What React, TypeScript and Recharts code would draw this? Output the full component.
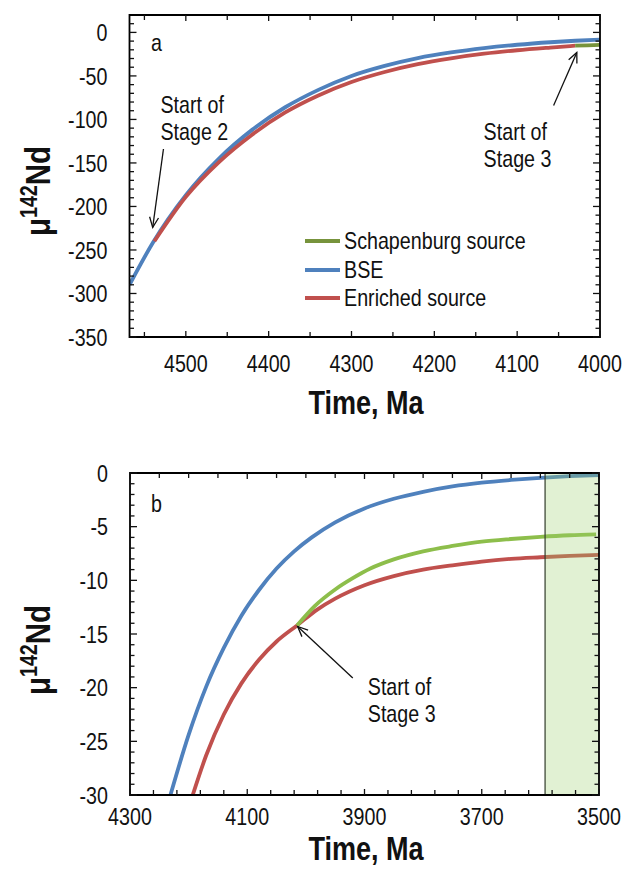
import { LineChart, Line, XAxis, YAxis, ReferenceArea, ReferenceLine, Legend } from 'recharts'

// ---- panel a: 4568 - 4000 Ma ----
const bseA = [
  { t: 4568, v: -290 }, { t: 4540, v: -242 }, { t: 4500, v: -187 }, { t: 4460, v: -145 },
  { t: 4420, v: -112 }, { t: 4380, v: -86 }, { t: 4340, v: -66 }, { t: 4300, v: -50 },
  { t: 4260, v: -38.5 }, { t: 4220, v: -29.5 }, { t: 4180, v: -23 }, { t: 4140, v: -18 },
  { t: 4100, v: -14.2 }, { t: 4060, v: -11.3 }, { t: 4030, v: -9.6 }, { t: 4000, v: -8.2 },
]
const enrichedA = [
  { t: 4538, v: -240 }, { t: 4500, v: -189 }, { t: 4460, v: -149 }, { t: 4420, v: -117.5 },
  { t: 4380, v: -92 }, { t: 4340, v: -72.5 }, { t: 4300, v: -57 }, { t: 4260, v: -45.5 },
  { t: 4220, v: -36.5 }, { t: 4180, v: -29.8 }, { t: 4140, v: -24.5 }, { t: 4100, v: -20.5 },
  { t: 4060, v: -17.4 }, { t: 4030, v: -15.3 },
]
const schapA = [{ t: 4030, v: -15.3 }, { t: 4015, v: -14.8 }, { t: 4000, v: -14.3 }]

// ---- panel b: 4300 - 3500 Ma ----
const bseB = [
  { t: 4231, v: -30 }, { t: 4200, v: -24.4 }, { t: 4170, v: -19.9 }, { t: 4140, v: -16.3 },
  { t: 4110, v: -13.3 }, { t: 4080, v: -10.9 }, { t: 4050, v: -8.9 }, { t: 4020, v: -7.3 },
  { t: 3990, v: -6 }, { t: 3950, v: -4.6 }, { t: 3900, v: -3.3 }, { t: 3850, v: -2.4 },
  { t: 3800, v: -1.75 }, { t: 3750, v: -1.25 }, { t: 3700, v: -0.9 }, { t: 3650, v: -0.65 },
  { t: 3600, v: -0.45 }, { t: 3550, v: -0.3 }, { t: 3500, v: -0.2 },
]
const enrichedB = [
  { t: 4193, v: -30 }, { t: 4170, v: -26.3 }, { t: 4140, v: -22.5 }, { t: 4110, v: -19.6 },
  { t: 4080, v: -17.4 }, { t: 4050, v: -15.7 }, { t: 4015, v: -14.2 }, { t: 3980, v: -12.7 },
  { t: 3950, v: -11.7 }, { t: 3900, v: -10.45 }, { t: 3850, v: -9.6 }, { t: 3800, v: -9 },
  { t: 3750, v: -8.6 }, { t: 3700, v: -8.25 }, { t: 3650, v: -8 }, { t: 3600, v: -7.85 },
  { t: 3550, v: -7.72 }, { t: 3500, v: -7.62 },
]
const schapB = [
  { t: 4015, v: -14.2 }, { t: 3985, v: -12.4 }, { t: 3950, v: -10.85 }, { t: 3920, v: -9.8 },
  { t: 3890, v: -8.9 }, { t: 3850, v: -8.05 }, { t: 3800, v: -7.3 }, { t: 3750, v: -6.8 },
  { t: 3700, v: -6.4 }, { t: 3650, v: -6.15 }, { t: 3600, v: -5.95 }, { t: 3550, v: -5.8 },
  { t: 3505, v: -5.72 },
]
const shadedB = [3592, 3500]

// ticks
const range = (a: number, b: number, s: number) =>
  Array.from({ length: Math.round((b - a) / s) + 1 }, (_, i) => Math.round((a + i * s) * 1000) / 1000)

const xTicksA = range(4000, 4550, 50)
const xLabelsA = [4500, 4400, 4300, 4200, 4100, 4000]
const yTicksA = range(-350, 10, 10)
const yLabelsA = [0, -50, -100, -150, -200, -250, -300, -350]

const xBottomB = range(3500, 4300, 40)
const xTopB = range(3500, 4300, 50)
const xLabelsB = [4300, 4100, 3900, 3700, 3500]
const yTicksB = range(-30, 0, 1)
const yLabelsB = [0, -5, -10, -15, -20, -25, -30]

const legendItems = [
  { name: 'Schapenburg source', color: '#77933C' },
  { name: 'BSE', color: '#4F81BD' },
  { name: 'Enriched source', color: '#C0504D' },
]

const FONT = "'Liberation Sans', Arial, sans-serif"
const NARROW = 0.82 // squeeze to mimic Arial Narrow
const INK = '#111'
const BLUE = '#4F81BD'
const RED = '#C0504D'
const GREEN_A = '#77933C'
const GREEN_B = '#8DBE4B'

function NText({ x, y, size, anchor = 'start', bold = false, rotate = 0, dy, children }: any) {
  return (
    <text transform={`translate(${x} ${y}) rotate(${rotate}) scale(${NARROW} 1)`} dy={dy}
      textAnchor={anchor} fontFamily={FONT} fontSize={size} fontWeight={bold ? 'bold' : 'normal'} fill={INK}>
      {children}
    </text>
  )
}

function xTick(plotTop: number, bottom: number[], top: number[], labels: number[], labelDy: number) {
  return (p: any) => {
    const v = Math.round(p.payload.value)
    const { x, y } = p
    const major = labels.includes(v)
    const len = major ? 6 : 5
    return (
      <g>
        {bottom.includes(v) && <line x1={x} x2={x} y1={y} y2={y - len} stroke={INK} strokeWidth={1.3} />}
        {top.includes(v) && <line x1={x} x2={x} y1={plotTop} y2={plotTop + len} stroke={INK} strokeWidth={1.3} />}
        {major && <NText x={x} y={y + labelDy} size={24} anchor="middle">{v}</NText>}
      </g>
    )
  }
}

function yTick(plotRight: number, labels: number[]) {
  return (p: any) => {
    const v = Math.round(p.payload.value * 1000) / 1000
    const { x, y } = p
    const major = labels.includes(v)
    const len = major ? 7 : 4.5
    return (
      <g>
        <line x1={x} x2={x + len} y1={y} y2={y} stroke={INK} strokeWidth={1.3} />
        <line x1={plotRight - len} x2={plotRight} y1={y} y2={y} stroke={INK} strokeWidth={1.3} />
        {major && <NText x={x - 22} y={y} dy="0.36em" size={24} anchor="end">{v}</NText>}
      </g>
    )
  }
}

function arrowNote(lines: string[], dx: number, dy: number[]) {
  return (p: any) => {
    const { x1, y1, x2, y2 } = p
    const ang = Math.atan2(y2 - y1, x2 - x1)
    const L = 11
    const s = 0.42
    const a1 = `${x2 - L * Math.cos(ang - s)},${y2 - L * Math.sin(ang - s)}`
    const a2 = `${x2 - L * Math.cos(ang + s)},${y2 - L * Math.sin(ang + s)}`
    return (
      <g>
        <line x1={x1} y1={y1} x2={x2} y2={y2} stroke={INK} strokeWidth={1.3} />
        <polyline points={`${a1} ${x2},${y2} ${a2}`} fill="none" stroke={INK} strokeWidth={1.3} />
        {lines.map((s2, i) => (
          <NText key={i} x={x1 + dx} y={y1 + dy[i]} size={24}>{s2}</NText>
        ))}
      </g>
    )
  }
}

const yTitle = (cx: number, cy: number) => () => (
  <NText x={cx} y={cy} rotate={-90} size={36} bold anchor="middle">
    <tspan>μ</tspan>
    <tspan fontSize={24} dy={-13}>142</tspan>
    <tspan dy={13}>Nd</tspan>
  </NText>
)

const xTitle = (cx: number, y: number) => () => (
  <NText x={cx} y={y} size={33} bold anchor="middle">Time, Ma</NText>
)

const letter = (s: string, x: number, y: number) => () => (
  <NText x={x} y={y} size={24}>{s}</NText>
)

const legendContent = () => (
  <div>
    {legendItems.map(it => (
      <div key={it.name} style={{ display: 'flex', alignItems: 'center', height: 28.5 }}>
        <div style={{ width: 35, height: 4, background: it.color, marginRight: 4, flex: 'none' }} />
        <span style={{
          display: 'inline-block', fontFamily: FONT, fontSize: 24, color: INK, lineHeight: '28px',
          whiteSpace: 'nowrap', transform: `scaleX(${NARROW})`, transformOrigin: 'left center',
        }}>{it.name}</span>
      </div>
    ))}
  </div>
)

export default function App() {
  return (
    <div style={{ position: 'absolute', left: 0, top: 0, width: 624, height: 876, background: '#fff' }}>
      {/* panel a */}
      <div style={{ position: 'absolute', left: 0, top: 0 }}>
        <LineChart width={624} height={440} margin={{ top: 15, right: 24, bottom: 0, left: 0 }}>
          <XAxis dataKey="t" type="number" domain={[4000, 4568]} reversed allowDataOverflow
            ticks={xTicksA} interval={0} tickSize={0} tickMargin={0} axisLine={false} height={103}
            tick={xTick(15, xTicksA, xTicksA, xLabelsA, 35)}
            label={{ content: xTitle(366, 414) }} />
          <YAxis type="number" domain={[-350, 20]} allowDataOverflow width={129.5}
            ticks={yTicksA} interval={0} tickSize={0} tickMargin={0} axisLine={false}
            tick={yTick(600, yLabelsA)} label={{ content: yTitle(50, 191) }} />
          <Line data={bseA} dataKey="v" name="BSE" type="monotone" stroke={BLUE} strokeWidth={3.8} dot={false} isAnimationActive={false} />
          <Line data={enrichedA} dataKey="v" name="Enriched source" type="monotone" stroke={RED} strokeWidth={3.8} dot={false} isAnimationActive={false} />
          <Line data={schapA} dataKey="v" name="Schapenburg source" type="monotone" stroke={GREEN_A} strokeWidth={3.8} dot={false} isAnimationActive={false} />
          <ReferenceArea x1={4568} x2={4000} y1={-350} y2={20} fill="none" stroke="#000" strokeWidth={1.8}
            ifOverflow="visible" zIndex={900} label={{ content: letter('a', 151, 51) }} />
          <ReferenceLine segment={[{ x: 4527, y: -134 }, { x: 4540, y: -224 }]} ifOverflow="visible" zIndex={950}
            shape={arrowNote(['Start of', 'Stage 2'], -3, [-36, -9])} />
          <ReferenceLine segment={[{ x: 4056, y: -84 }, { x: 4028, y: -23 }]} ifOverflow="visible" zIndex={950}
            shape={arrowNote(['Start of', 'Stage 3'], -70, [34, 61])} />
          <Legend layout="vertical" align="center" verticalAlign="middle" content={legendContent}
            wrapperStyle={{ left: 305, top: 227, width: 260 }} />
        </LineChart>
      </div>

      {/* panel b */}
      <div style={{ position: 'absolute', left: 0, top: 440 }}>
        <LineChart width={624} height={436} margin={{ top: 33, right: 25, bottom: 0, left: 0 }}>
          <XAxis dataKey="t" type="number" domain={[3500, 4300]} reversed allowDataOverflow
            ticks={[...new Set([...xBottomB, ...xTopB])].sort((a, b) => a - b)} interval={0}
            tickSize={0} tickMargin={0} axisLine={false} height={81}
            tick={xTick(33, xBottomB, xTopB, xLabelsB, 30)}
            label={{ content: xTitle(366, 420) }} />
          <YAxis type="number" domain={[-30, 0]} allowDataOverflow width={130}
            ticks={yTicksB} interval={0} tickSize={0} tickMargin={0} axisLine={false}
            tick={yTick(599, yLabelsB)} label={{ content: yTitle(50, 210) }} />
          <Line data={bseB} dataKey="v" type="monotone" stroke={BLUE} strokeWidth={3.8} dot={false} isAnimationActive={false} />
          <Line data={enrichedB} dataKey="v" type="monotone" stroke={RED} strokeWidth={3.8} dot={false} isAnimationActive={false} />
          <Line data={schapB} dataKey="v" type="monotone" stroke={GREEN_B} strokeWidth={3.8} dot={false} isAnimationActive={false} />
          <ReferenceArea x1={shadedB[0]} x2={shadedB[1]} y1={-30} y2={0} fill="#9BD16E" fillOpacity={0.3}
            stroke="none" ifOverflow="visible" zIndex={800} />
          <ReferenceLine x={shadedB[0]} stroke="#2f3a2a" strokeWidth={1.2} zIndex={850} />
          <ReferenceArea x1={4300} x2={3500} y1={-30} y2={0} fill="none" stroke="#000" strokeWidth={1.8}
            ifOverflow="visible" zIndex={900} label={{ content: letter('b', 151, 72) }} />
          <ReferenceLine segment={[{ x: 3920, y: -19.1 }, { x: 4014, y: -14.3 }]} ifOverflow="visible" zIndex={950}
            shape={arrowNote(['Start of', 'Stage 3'], 15, [17, 44])} />
        </LineChart>
      </div>
    </div>
  )
}
